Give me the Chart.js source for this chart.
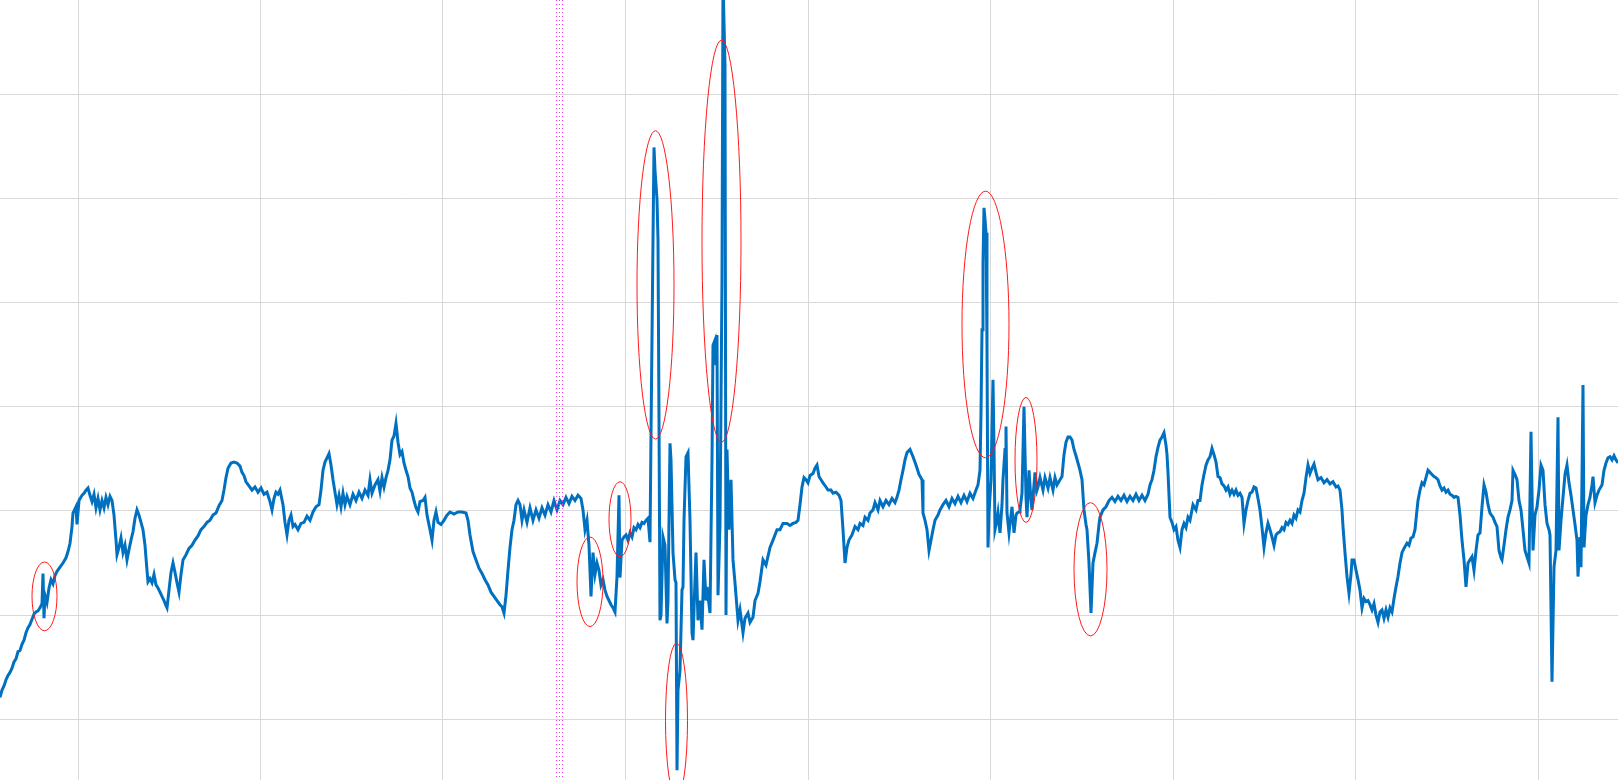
<!DOCTYPE html>
<html>
<head>
<meta charset="utf-8">
<script src="https://cdn.jsdelivr.net/npm/chart.js@4/dist/chart.umd.min.js"></script>
<style>
  html, body { margin: 0; padding: 0; background: #ffffff; }
  #wrap { width: 1618px; height: 780px; }
</style>
</head>
<body>
<div id="wrap"><canvas id="trace" width="1618" height="780"></canvas></div>
<script>
// Data -------------------------------------
// --> sample number (x) and signal level (y)

const sampleX = [
  0,2,4,6,8,10,12,14,16,18,
  20,22,24,26,28,30,32,34,36,38,
  40,42,43,44,45,47,49,51,53,55,
  57,60,63,66,68,70,72,73,76,77,
  79,82,84,86,88,90,92,94,96,98,
  100,102,104,106,108,110,112,114,116,117,
  119,121,123,125,127,129,131,133,135,137,
  139,141,143,145,147,148,150,152,154,156,
  158,160,162,164,166,167,169,171,173,175,
  177,179,181,183,186,189,192,195,198,201,
  204,207,210,213,216,219,222,224,226,228,
  231,234,237,240,242,244,246,249,252,255,
  258,261,264,267,270,272,274,276,278,280,
  283,285,287,289,291,293,295,298,301,304,
  307,310,313,316,319,321,323,325,327,329,
  331,333,335,337,339,341,343,345,347,350,
  353,356,359,362,365,368,370,372,375,378,
  380,382,384,386,388,390,392,394,396,398,
  400,402,404,406,408,410,412,414,416,418,
  420,423,425,427,430,432,434,436,438,441,
  444,447,450,454,458,462,466,468,470,473,
  476,479,482,485,488,491,494,497,500,502,
  504,506,508,510,512,514,516,518,520,522,
  524,527,530,533,536,539,542,545,548,551,
  554,557,560,563,566,569,572,575,578,581,
  583,585,587,589,591,593,595,597,599,601,
  603,605,607,609,611,613,615,617,619,620,
  622,624,626,628,630,632,634,636,638,640,
  642,644,646,648,650,651,653,654,655,657,
  658,659,660,661,663,665,667,668,670,671,
  673,675,676,677,678,680,682,683,684,686,
  688,690,692,693,695,696,698,700,702,704,
  706,707,710,712,713,715,716,717,718,720,
  722,723,725,726,727,729,731,733,735,738,
  740,743,745,748,750,753,755,758,760,763,
  766,770,773,777,780,783,787,790,793,796,
  798,800,802,804,806,808,810,813,815,817,
  819,821,823,826,828,831,833,836,839,841,
  843,845,847,849,852,855,858,860,863,865,
  868,870,873,875,878,880,883,886,889,892,
  895,897,899,901,903,905,907,910,913,916,
  919,922,923,925,927,929,931,933,935,938,
  940,943,946,949,952,955,958,961,964,967,
  970,973,976,978,980,981,982,983,984,985,
  986,987,988,989,991,993,994,995,997,998,
  1000,1002,1003,1005,1006,1007,1009,1011,1012,1014,
  1016,1017,1019,1020,1022,1024,1026,1027,1029,1031,
  1032,1034,1035,1037,1038,1040,1043,1045,1048,1050,
  1053,1055,1057,1060,1062,1064,1066,1068,1070,1072,
  1074,1076,1078,1080,1082,1084,1086,1087,1089,1091,
  1093,1095,1097,1099,1100,1103,1106,1109,1112,1115,
  1118,1121,1124,1127,1130,1133,1136,1139,1142,1145,
  1148,1150,1152,1154,1156,1158,1160,1162,1164,1166,
  1167,1168,1170,1172,1174,1176,1178,1180,1182,1184,
  1186,1188,1190,1193,1196,1198,1200,1202,1204,1206,
  1208,1210,1212,1214,1216,1218,1220,1222,1224,1226,
  1228,1230,1232,1234,1236,1238,1240,1242,1244,1246,
  1248,1250,1252,1254,1256,1258,1260,1262,1264,1266,
  1268,1270,1272,1274,1276,1278,1280,1282,1284,1286,
  1288,1290,1292,1294,1296,1298,1300,1302,1304,1306,
  1308,1310,1312,1314,1316,1318,1321,1324,1327,1330,
  1333,1336,1338,1340,1342,1343,1345,1347,1349,1351,
  1352,1354,1356,1358,1360,1362,1364,1366,1368,1370,
  1372,1374,1376,1378,1380,1382,1384,1386,1388,1390,
  1392,1394,1396,1398,1400,1402,1404,1407,1409,1411,
  1413,1415,1417,1418,1420,1422,1424,1426,1428,1430,
  1432,1434,1436,1438,1440,1442,1444,1446,1448,1450,
  1452,1454,1456,1458,1460,1462,1464,1466,1468,1470,
  1472,1474,1476,1478,1480,1482,1484,1486,1488,1490,
  1493,1495,1497,1499,1501,1502,1504,1506,1508,1510,
  1512,1513,1515,1517,1519,1521,1523,1525,1527,1529,
  1531,1533,1535,1537,1539,1541,1543,1545,1547,1549,
  1550,1552,1554,1556,1558,1559,1561,1563,1565,1567,
  1569,1571,1573,1575,1577,1578,1580,1581,1583,1584,
  1586,1588,1590,1592,1593,1595,1597,1599,1602,1604,
  1606,1608,1610,1612,1614,1616,1618
]

const level = [
  2.1,2.8,3.2,3.8,4.2,4.5,4.9,5.5,5.8,6.5,
  6.6,7.2,7.6,8.3,8.8,9.1,9.6,10.1,10.3,10.4,
  10.7,11.1,14.0,9.7,11.9,11.2,12.6,13.4,13.0,13.8,
  14.2,14.6,15.0,15.5,16.1,16.9,18.5,19.8,20.4,18.7,
  21.0,21.5,21.7,22.0,22.2,21.5,20.9,21.6,20.3,21.2,
  20.1,21.0,20.3,21.3,20.6,21.4,21.0,19.6,17.2,15.8,
  16.5,17.4,16.0,16.7,15.3,16.3,17.2,18.0,19.3,20.1,
  19.6,18.9,18.2,16.7,14.3,13.2,13.5,13.1,13.9,12.9,
  12.6,12.2,11.8,11.4,10.9,10.7,12.4,14.1,15.0,14.1,
  13.1,12.2,13.9,15.3,15.8,16.4,16.7,17.2,17.6,18.2,
  18.5,18.9,19.1,19.6,19.8,20.5,21.0,22.0,23.2,24.1,
  24.6,24.7,24.6,24.3,23.7,23.4,22.8,22.4,22.0,22.3,
  21.8,22.2,21.6,21.8,20.9,20.1,21.2,21.8,21.6,22.0,
  20.6,18.9,17.7,19.1,19.6,18.5,18.7,18.2,18.8,18.9,
  19.5,19.1,19.9,20.4,20.6,22.0,23.9,24.7,25.1,25.5,
  24.4,23.0,21.8,20.6,21.5,20.4,21.7,20.6,21.4,20.6,
  21.6,21.0,21.8,21.2,22.0,21.5,23.0,21.7,22.5,23.0,
  21.9,23.2,22.3,23.2,23.9,24.9,26.8,27.2,28.4,26.6,
  25.4,25.7,24.6,23.9,23.3,22.2,21.8,21.0,20.3,19.9,
  20.9,21.0,21.3,19.6,18.2,17.2,19.1,19.9,18.9,18.7,
  19.1,19.6,19.9,19.7,19.9,19.9,19.8,19.1,17.7,16.1,
  15.3,14.5,14.0,13.4,12.9,12.2,11.8,11.4,11.0,10.8,
  10.2,11.9,14.3,16.5,18.2,19.1,20.6,21.0,20.6,19.1,
  20.1,18.9,20.3,19.1,20.1,19.3,20.3,19.6,20.6,19.9,
  21.0,20.1,21.0,20.6,21.3,20.7,21.4,21.0,21.5,21.2,
  20.1,18.2,19.1,16.7,11.8,16.0,13.9,15.0,14.3,12.9,
  13.4,12.4,11.8,11.4,11.0,10.7,10.3,13.7,21.5,13.6,
  17.2,17.5,17.7,17.2,17.9,17.5,18.4,18.2,18.7,18.4,
  18.9,18.8,19.1,19.3,17.0,27.3,46.0,54.9,52.7,49.9,
  46.0,28.7,9.5,10.0,17.5,16.7,9.2,11.4,26.5,24.9,
  16.0,13.4,13.1,-4.9,2.8,4.7,12.4,12.7,19.1,25.2,
  25.6,19.1,8.3,7.6,13.4,16.0,9.5,11.4,8.6,15.3,
  11.4,12.7,10.2,24.9,35.9,36.4,34.0,36.9,11.9,18.7,
  42.2,71.0,62.8,10.0,25.9,18.2,23.0,15.3,13.1,9.5,
  10.5,8.3,9.7,10.2,9.3,9.8,11.4,12.1,13.2,15.3,
  14.8,16.5,17.2,18.2,18.2,18.8,18.8,18.6,18.8,18.9,
  19.1,20.6,22.3,23.2,23.0,22.7,23.4,23.6,24.1,24.4,
  23.3,23.0,22.7,22.3,22.0,22.0,21.7,21.8,21.5,21.0,
  18.2,15.0,16.5,17.2,17.7,18.5,18.2,18.8,18.6,19.4,
  19.1,19.8,20.1,20.8,20.1,21.0,20.4,21.0,20.6,21.2,
  20.8,21.3,22.0,23.0,23.9,24.9,25.6,25.9,25.2,24.4,
  23.5,23.0,19.8,19.1,18.2,16.2,17.2,18.2,19.1,19.6,
  20.1,20.6,21.0,20.4,21.2,20.7,21.4,20.8,21.5,20.9,
  21.7,21.2,22.0,22.5,23.9,29.4,37.4,43.8,49.1,48.0,
  46.7,35.7,16.5,19.8,23.0,32.6,26.1,18.2,19.1,19.8,
  17.9,20.6,23.0,25.9,28.1,19.8,17.9,19.6,20.4,17.9,
  19.6,19.8,19.9,20.1,21.7,30.0,21.3,19.4,23.9,21.0,
  20.1,22.5,23.7,22.0,22.3,23.2,22.0,23.2,22.2,23.2,
  22.0,23.2,22.5,23.0,23.3,25.4,26.6,27.1,27.1,26.8,
  25.9,25.3,24.6,23.9,23.0,20.1,18.7,18.2,15.0,10.2,
  15.0,16.0,16.9,18.7,19.4,20.1,20.4,21.0,21.3,20.9,
  21.4,21.0,21.5,20.9,21.4,21.0,21.6,21.0,21.5,21.0,
  21.6,22.5,23.0,23.9,25.2,26.1,26.8,27.1,27.5,26.3,
  25.4,23.7,19.4,18.9,18.2,18.5,17.2,16.5,18.2,18.8,
  18.4,19.4,19.1,20.6,20.1,21.0,21.0,22.5,23.5,24.4,
  24.9,25.2,26.0,25.4,24.7,23.3,23.2,22.6,22.4,22.0,
  22.3,21.6,22.0,21.6,22.0,21.5,21.7,21.3,18.8,20.1,
  21.0,21.7,21.8,22.3,22.2,21.2,20.1,18.4,16.5,17.9,
  18.8,18.2,17.5,16.7,17.7,17.9,18.0,18.4,18.2,18.9,
  18.7,19.1,18.8,19.6,19.3,20.1,19.9,21.0,21.7,23.2,
  24.4,23.6,24.1,24.5,23.7,23.0,23.2,22.7,23.0,22.6,
  22.8,22.3,22.4,22.0,20.1,18.5,16.0,13.7,12.1,13.9,
  15.3,15.3,14.3,13.4,12.4,10.7,11.6,11.3,11.4,11.0,
  10.5,11.1,10.0,9.3,10.3,10.5,9.7,10.5,9.8,10.7,
  10.3,11.6,12.7,13.7,15.0,16.0,16.4,16.9,16.7,17.4,
  17.5,18.2,20.1,21.0,22.0,22.7,22.5,23.2,23.9,23.7,
  23.5,23.3,23.2,23.0,22.4,22.0,22.2,21.8,22.0,21.6,
  21.5,21.3,21.4,21.3,19.6,17.2,15.3,12.7,15.0,15.3,
  15.6,14.3,16.2,17.7,17.9,20.4,22.5,21.8,20.6,19.8,
  19.4,18.9,18.5,16.2,15.5,15.3,16.7,18.2,19.4,20.1,
  21.0,23.9,23.5,23.0,21.0,20.1,18.2,16.2,15.6,15.0,
  27.6,16.2,19.6,20.4,22.0,24.4,23.9,20.6,18.8,18.2,
  17.7,3.6,14.6,16.2,29.0,16.2,19.1,21.3,23.5,24.4,
  22.7,21.5,20.1,18.7,17.2,13.7,17.5,14.6,32.1,16.5,
  19.6,20.6,21.3,22.5,23.3,20.8,21.5,22.0,22.5,23.9,
  24.6,25.1,25.2,24.9,25.3,24.9,24.6
]

// grid positions on both axes
const xTicks = [78, 260.5, 443, 625.5, 808, 990.5, 1173, 1355.5, 1538]
const yTicks = [0, 10, 20, 30, 40, 50, 60]

// dotted event marker (sample number)
const markerSample = 559

// red rings drawn round the glitches: centre and half-extent in data units
const ringX     = [44.5, 590, 620, 655.5, 721.5, 676.5, 985.5, 1026, 1090.5]
const ringY     = [11.8, 13.2, 19.2, 41.7, 45.9, -0.1, 37.9, 24.9, 14.4]
const ringHalfW = [12.5, 13, 11, 18.5, 19.5, 11, 23.5, 11, 16.5]
const ringHalfH = [3.3, 4.3, 3.6, 14.8, 19.3, 7.4, 12.8, 6.0, 6.4]


// Overlays -------------------------------------
// --> marker line and rings, placed through the chart scales

const overlays = {
    id: 'overlays',
    afterDatasetsDraw(chart) {
        const ctx = chart.ctx
        const sx = chart.scales.x
        const sy = chart.scales.y
        const area = chart.chartArea

        ctx.save()

        // three dotted columns for the marker
        ctx.strokeStyle = '#ea3cea'
        ctx.lineWidth = 1
        ctx.setLineDash([1, 3])
        const mx = Math.round(sx.getPixelForValue(markerSample))
        for (const off of [-3, 0, 3]) {
            ctx.beginPath()
            ctx.moveTo(mx + off + 0.5, area.top)
            ctx.lineTo(mx + off + 0.5, area.bottom)
            ctx.stroke()
        }
        ctx.setLineDash([])

        // rings
        ctx.strokeStyle = '#ff1a1a'
        ctx.lineWidth = 1
        ringX.forEach(function (cx, i) {
            const px = sx.getPixelForValue(cx)
            const py = sy.getPixelForValue(ringY[i])
            const rx = Math.abs(sx.getPixelForValue(cx + ringHalfW[i]) - px)
            const ry = Math.abs(sy.getPixelForValue(ringY[i] + ringHalfH[i]) - py)
            ctx.beginPath()
            ctx.ellipse(px, py, rx, ry, 0, 0, Math.PI * 2)
            ctx.stroke()
        })

        ctx.restore()
    }
}


// Chart generation -------------------------------------

const points = sampleX.map(function (x, i) {
    return { x: x, y: level[i] }
})

const grid = {
    color: '#d9d9d9',
    lineWidth: 1,
    drawTicks: false,
}

const config = {
    type: 'line',
    data: {
        datasets: [{
            label: 'signal',
            data: points,
            borderColor: '#0070c0',
            borderWidth: 3,
            pointRadius: 0,
            tension: 0,
            fill: false,
        }]
    },
    options: {
        responsive: false,
        animation: false,
        layout: { padding: 0 },
        plugins: {
            legend: { display: false },
            tooltip: { enabled: false },
        },
        scales: {
            x: {
                type: 'linear',
                min: 0,
                max: 1618,
                grid: grid,
                border: { display: false },
                ticks: { display: false },
                afterBuildTicks: function (scale) {
                    scale.ticks = xTicks.map(function (v) { return { value: v } })
                },
            },
            y: {
                type: 'linear',
                min: -5.83,
                max: 69.05,
                grid: grid,
                border: { display: false },
                ticks: { display: false },
                afterBuildTicks: function (scale) {
                    scale.ticks = yTicks.map(function (v) { return { value: v } })
                },
            },
        },
    },
    plugins: [overlays],
}

const chart = new Chart(document.getElementById('trace').getContext('2d'), config)
</script>
</body>
</html>
